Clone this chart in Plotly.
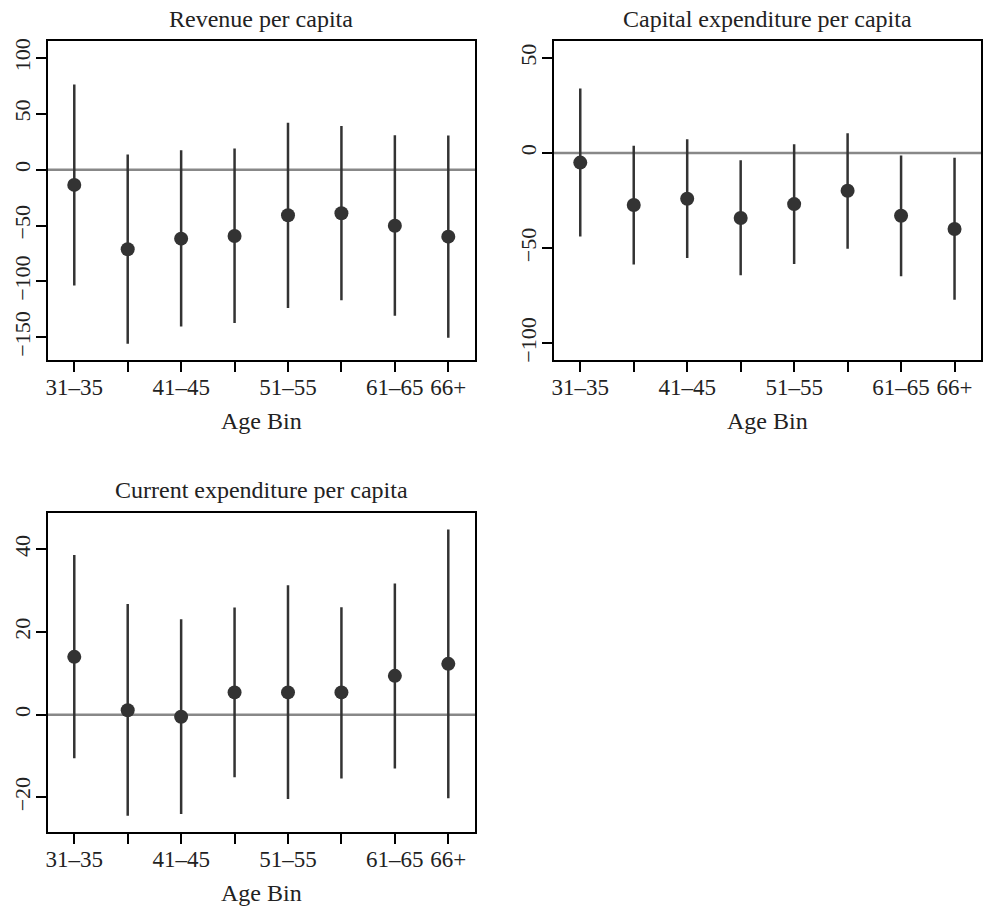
import plotly.graph_objects as go

age_bins = ["31–35", "36–40", "41–45", "46–50", "51–55", "56–60", "61–65", "66+"]
tick_labels = ["31–35", "", "41–45", "", "51–55", "", "61–65", "66+"]
bin_pos = [1, 2, 3, 4, 5, 6, 7, 8]

rev_est = [-13.6, -71.2, -61.7, -59.3, -40.7, -38.9, -50.1, -59.9]
rev_lo = [-103.6, -155.8, -140.4, -137.1, -123.7, -116.9, -130.6, -150.4]
rev_hi = [76.3, 13.6, 17.5, 19.0, 42.1, 39.2, 30.9, 30.6]

cap_est = [-5.0, -27.3, -24.0, -34.1, -26.8, -19.8, -32.9, -39.9]
cap_lo = [-43.9, -58.6, -55.2, -64.2, -58.3, -50.3, -64.7, -77.1]
cap_hi = [33.9, 3.8, 7.3, -3.8, 4.7, 10.4, -1.2, -2.4]

cur_est = [14.0, 1.1, -0.5, 5.4, 5.4, 5.4, 9.4, 12.3]
cur_lo = [-10.5, -24.4, -24.0, -15.1, -20.4, -15.4, -13.0, -20.2]
cur_hi = [38.6, 26.8, 23.1, 25.9, 31.3, 26.0, 31.7, 44.8]

panels = [
    dict(title="Revenue per capita", est=rev_est, lo=rev_lo, hi=rev_hi,
         yticks=[100, 50, 0, -50, -100, -150], yrange=[-170.2, 114.8],
         xdom=[0.0463, 0.4807], ydom=[0.6052, 0.9575]),
    dict(title="Capital expenditure per capita", est=cap_est, lo=cap_lo, hi=cap_hi,
         yticks=[50, 0, -50, -100], yrange=[-108.7, 58.7],
         xdom=[0.5605, 0.9952], ydom=[0.6052, 0.9575]),
    dict(title="Current expenditure per capita", est=cur_est, lo=cur_lo, hi=cur_hi,
         yticks=[40, 20, 0, -20], yrange=[-28.3, 48.7],
         xdom=[0.0463, 0.4807], ydom=[0.0832, 0.4355]),
]

FONT = "Liberation Serif"
DARK = "#333333"
TXT = "#222222"
W, H = 986, 910

fig = go.Figure()
layout = dict(width=W, height=H, margin=dict(l=0, r=0, t=0, b=0),
              plot_bgcolor="white", paper_bgcolor="white", showlegend=False,
              font=dict(family=FONT, size=23, color=TXT))
annotations = []
shapes = []

for i, p in enumerate(panels):
    n = i + 1
    xa = "x" if n == 1 else f"x{n}"
    ya = "y" if n == 1 else f"y{n}"
    xkey = "xaxis" if n == 1 else f"xaxis{n}"
    ykey = "yaxis" if n == 1 else f"yaxis{n}"
    plus = [h - e for h, e in zip(p["hi"], p["est"])]
    minus = [e - l for e, l in zip(p["est"], p["lo"])]
    fig.add_trace(go.Scatter(
        x=bin_pos, y=p["est"], mode="markers", xaxis=xa, yaxis=ya,
        marker=dict(size=14, color=DARK),
        error_y=dict(type="data", array=plus, arrayminus=minus, symmetric=False,
                     thickness=2.5, width=0, color=DARK),
        hovertext=age_bins,
    ))
    layout[xkey] = dict(domain=p["xdom"], anchor=ya, range=[0.5, 8.5],
                        tickvals=bin_pos, ticktext=tick_labels,
                        showline=True, linecolor="black", linewidth=1.5, mirror=True,
                        ticks="outside", ticklen=10, tickwidth=1.5, tickcolor="black",
                        ticklabelstandoff=-4,
                        showgrid=False, zeroline=False,
                        tickfont=dict(family=FONT, size=23, color=TXT))
    layout[ykey] = dict(domain=p["ydom"], anchor=xa, range=p["yrange"],
                        tickvals=p["yticks"],
                        ticktext=[str(v).replace("-", "−") for v in p["yticks"]],
                        tickangle=-90,
                        showline=True, linecolor="black", linewidth=1.5, mirror=True,
                        ticks="outside", ticklen=10, tickwidth=1.5, tickcolor="black",
                        ticklabelstandoff=-3,
                        showgrid=False, zeroline=False,
                        tickfont=dict(family=FONT, size=22, color=TXT))
    shapes.append(dict(type="line", xref=f"{xa} domain", yref=ya, x0=0, x1=1, y0=0, y1=0,
                       line=dict(color="#888888", width=2.5), layer="below"))
    xc = (p["xdom"][0] + p["xdom"][1]) / 2
    annotations.append(dict(text=p["title"], xref="paper", yref="paper", x=xc,
                            y=p["ydom"][1] + 23 / H, xanchor="center", yanchor="middle",
                            showarrow=False, font=dict(family=FONT, size=24, color=TXT)))
    annotations.append(dict(text="Age Bin", xref="paper", yref="paper", x=xc,
                            y=p["ydom"][0] - 62 / H, xanchor="center", yanchor="middle",
                            showarrow=False, font=dict(family=FONT, size=24, color=TXT)))

layout["annotations"] = annotations
layout["shapes"] = shapes
fig.update_layout(**layout)
fig.write_html("out.html")
